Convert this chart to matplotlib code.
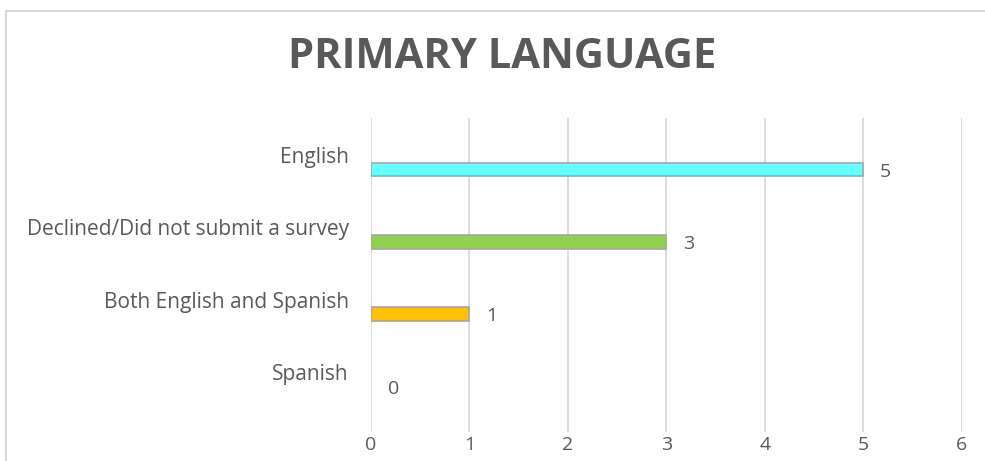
import matplotlib
matplotlib.use("Agg")
import matplotlib.pyplot as plt
from matplotlib.patches import Rectangle

categories = ["English", "Declined/Did not submit a survey", "Both English and Spanish", "Spanish"]
counts = [5, 3, 1, 0]
colors = ["#66FFFF", "#92D050", "#FFC000", "#5B9BD5"]
xticks = [0, 1, 2, 3, 4, 5, 6]

TXT = "#595959"
GRID = "#D9D9D9"
plt.rcParams["font.family"] = ["Open Sans", "DejaVu Sans"]

fig = plt.figure(figsize=(9.85, 4.61), dpi=100)
ax = fig.add_axes([0.3766, 0.0629, 0.6, 0.681])

pos = list(range(len(categories)))
bar_off = 0.2
edges = ["#A6A6A6" if v > 0 else "none" for v in counts]
ax.barh([p + bar_off for p in pos], counts, height=0.19, color=colors,
        edgecolor=edges, linewidth=1.2, zorder=3)
for p, v in zip(pos, counts):
    ax.text(v + 0.17, p + bar_off + 0.03, str(v), ha="left", va="center",
            fontsize=14, color=TXT)

ax.set_xlim(0, 6)
ax.set_ylim(3.83, -0.51)
ax.set_xticks(xticks)
ax.set_xticklabels([str(t) for t in xticks], fontsize=14, color=TXT)
ax.set_yticks(pos)
ax.set_yticklabels(categories, fontsize=15, color=TXT)
ax.tick_params(axis="y", length=0, pad=16)
ax.tick_params(axis="x", length=0, pad=3)
ax.grid(axis="x", color=GRID, linewidth=1.3, zorder=0)
for s in ax.spines.values():
    s.set_visible(False)

fig.text(0.51, 0.875, "PRIMARY LANGUAGE", ha="center", va="center",
         fontsize=30, fontweight="bold", color=TXT)

# chart-area border (runs off the right and bottom edges)
fig.patches.append(Rectangle((6 / 985, -0.2), 1.1, 0.2 + (461 - 11) / 461,
                             transform=fig.transFigure, fill=False,
                             edgecolor=GRID, linewidth=1.5))

fig.savefig("out.png", dpi=100)
